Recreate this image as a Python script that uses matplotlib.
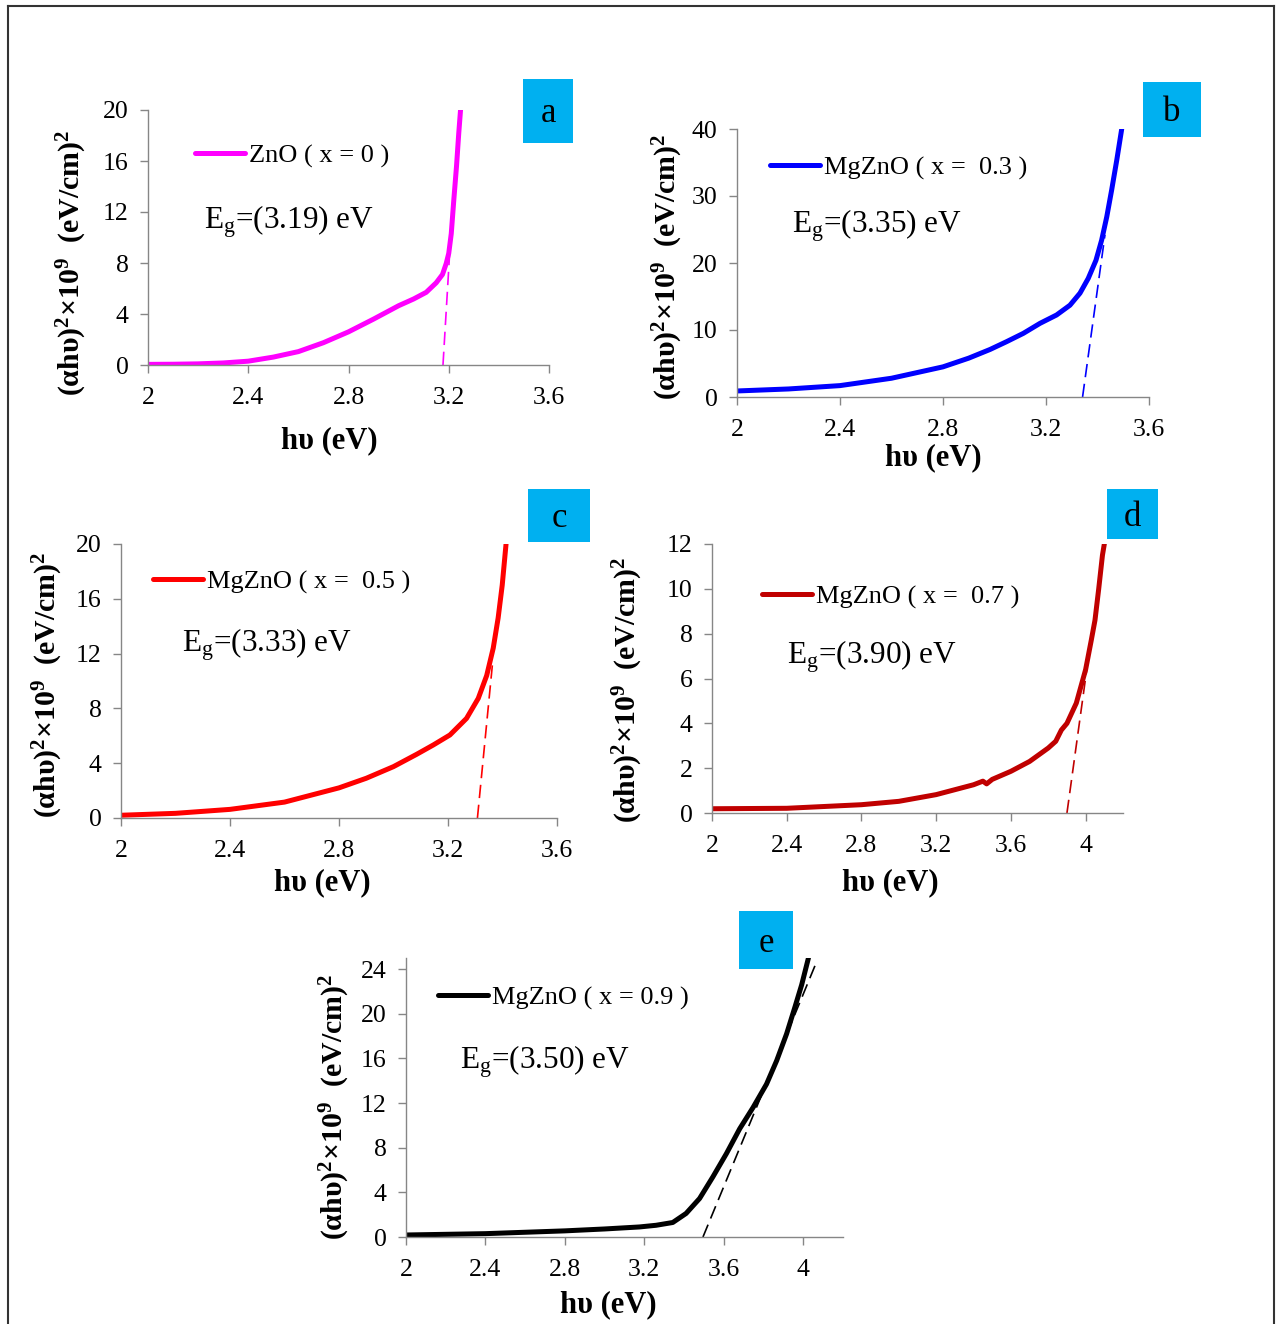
import numpy as np
import matplotlib.pyplot as plt
from matplotlib.patches import Rectangle
from matplotlib.lines import Line2D

plt.rcParams['font.family'] = ['Liberation Serif', 'DejaVu Serif']
plt.rcParams['mathtext.fontset'] = 'custom'
plt.rcParams['mathtext.rm'] = 'Liberation Serif'
plt.rcParams['mathtext.bf'] = 'Liberation Serif:bold'
plt.rcParams['mathtext.it'] = 'Liberation Serif:italic'

# ---- data ----
# (a) ZnO x = 0
a_x = [2.0, 2.1, 2.2, 2.3, 2.4, 2.5, 2.6, 2.7, 2.8, 2.9, 3.0, 3.06, 3.11, 3.15, 3.175, 3.19,
       3.2, 3.21, 3.22, 3.231, 3.24, 3.247]
a_y = [0.05, 0.06, 0.09, 0.16, 0.3, 0.62, 1.05, 1.75, 2.6, 3.6, 4.65, 5.18, 5.7, 6.45, 7.1, 7.97,
       8.76, 10.3, 12.9, 15.6, 18.2, 20.0]
a_fit_x = [3.177, 3.204]
a_fit_y = [0.0, 8.9]

# (b) MgZnO x = 0.3
b_x = [2.0, 2.2, 2.4, 2.6, 2.8, 2.9, 2.983, 3.047, 3.112, 3.177, 3.241, 3.293, 3.332, 3.364,
       3.394, 3.416, 3.436, 3.455, 3.475, 3.494]
b_y = [0.9, 1.2, 1.7, 2.8, 4.5, 5.8, 7.1, 8.26, 9.5, 11.0, 12.24, 13.7, 15.5, 17.7,
       20.4, 23.4, 26.9, 30.9, 35.4, 40.0]
b_fit_x = [3.342, 3.429]
b_fit_y = [0.0, 24.2]

# (c) MgZnO x = 0.5
c_x = [2.0, 2.2, 2.4, 2.6, 2.8, 2.9, 3.0, 3.085, 3.146, 3.207, 3.268, 3.311, 3.342, 3.366,
       3.384, 3.399, 3.413]
c_y = [0.2, 0.34, 0.63, 1.16, 2.2, 2.9, 3.75, 4.65, 5.33, 6.06, 7.27, 8.73, 10.4, 12.4,
       14.6, 17.0, 20.0]
c_fit_x = [3.308, 3.363]
c_fit_y = [0.0, 11.2]

# (d) MgZnO x = 0.7
d_x = [2.0, 2.4, 2.8, 3.0, 3.2, 3.3, 3.4, 3.45, 3.47, 3.5, 3.6, 3.7, 3.8, 3.84, 3.87, 3.9,
       3.95, 4.0, 4.03, 4.05, 4.07, 4.09, 4.1]
d_y = [0.19, 0.21, 0.37, 0.52, 0.82, 1.04, 1.26, 1.42, 1.3, 1.5, 1.86, 2.3, 2.9, 3.2, 3.7, 4.0,
       4.9, 6.4, 7.7, 8.6, 10.0, 11.5, 12.0]
d_fit_x = [3.90, 4.006]
d_fit_y = [0.0, 6.4]

# (e) MgZnO x = 0.9
e_x = [2.0, 2.4, 2.8, 3.0, 3.175, 3.259, 3.343, 3.41, 3.478, 3.545, 3.613, 3.68, 3.747, 3.815,
       3.866, 3.916, 3.958, 3.992, 4.026]
e_y = [0.18, 0.3, 0.55, 0.72, 0.9, 1.05, 1.3, 2.11, 3.45, 5.39, 7.47, 9.7, 11.6, 13.7,
       15.8, 18.2, 20.6, 22.6, 25.0]
e_fit_x = [3.495, 4.068]
e_fit_y = [0.0, 24.7]

labels = ['ZnO ( x = 0 )', 'MgZnO ( x =  0.3 )', 'MgZnO ( x =  0.5 )',
          'MgZnO ( x =  0.7 )', 'MgZnO ( x = 0.9 )']
gaps = ['3.19', '3.35', '3.33', '3.90', '3.50']
letters = ['a', 'b', 'c', 'd', 'e']
colors = ['#FF00FF', '#0000FF', '#FF0000', '#C00000', '#000000']

W, H = 1277, 1324
fig = plt.figure(figsize=(W / 100, H / 100), dpi=100)


def fx(px):
    return px / W


def fy(py):
    return 1 - py / H


# panel layout in pixels: axes (l, r, t, b), limits, ticks, label box, legend, Eg text, labels
panels = [
    dict(x=a_x, y=a_y, fx_=a_fit_x, fy_=a_fit_y, ax=(148, 549, 110, 365), xlim=(2, 3.6), ylim=(0, 20),
         xt=np.arange(2, 3.61, 0.4), yt=np.arange(0, 21, 4), box=(523, 573, 79, 143),
         leg=(195, 156), eg=(204, 222), yl=(72, 263), xl=(329, 441)),
    dict(x=b_x, y=b_y, fx_=b_fit_x, fy_=b_fit_y, ax=(737, 1149, 129, 397), xlim=(2, 3.6), ylim=(0, 40),
         xt=np.arange(2, 3.61, 0.4), yt=np.arange(0, 41, 10), box=(1143, 1201, 82, 137),
         leg=(770, 168), eg=(792, 226), yl=(668, 267), xl=(933, 458)),
    dict(x=c_x, y=c_y, fx_=c_fit_x, fy_=c_fit_y, ax=(121, 557, 544, 818), xlim=(2, 3.6), ylim=(0, 20),
         xt=np.arange(2, 3.61, 0.4), yt=np.arange(0, 21, 4), box=(528, 590, 489, 542),
         leg=(153, 582), eg=(182, 645), yl=(48, 685), xl=(322, 883)),
    dict(x=d_x, y=d_y, fx_=d_fit_x, fy_=d_fit_y, ax=(712, 1123, 544, 813), xlim=(2, 4.2), ylim=(0, 12),
         xt=np.arange(2, 4.01, 0.4), yt=np.arange(0, 13, 2), box=(1107, 1158, 489, 539),
         leg=(762, 597), eg=(787, 657), yl=(628, 690), xl=(890, 883)),
    dict(x=e_x, y=e_y, fx_=e_fit_x, fy_=e_fit_y, ax=(406, 843, 958, 1237), xlim=(2, 4.2), ylim=(0, 25),
         xt=np.arange(2, 4.01, 0.4), yt=np.arange(0, 25, 4), box=(739, 793, 911, 969),
         leg=(438, 998), eg=(460, 1062), yl=(335, 1107), xl=(608, 1305)),
]

spine_col = '#868686'
ylab = r'(αhυ)$^\mathbf{2}$×10$^\mathbf{9}$  (eV/cm)$^\mathbf{2}$'

for i, p in enumerate(panels):
    l, r, t, b = p['ax']
    ax = fig.add_axes([fx(l), fy(b), (r - l) / W, (b - t) / H])
    ax.plot(p['x'], p['y'], color=colors[i], lw=3.6, solid_capstyle='round', label=labels[i])
    ax.plot(p['fx_'], p['fy_'], color=colors[i], lw=1.2, ls=(0, (8, 4)))
    ax.set_xlim(*p['xlim'])
    ax.set_ylim(*p['ylim'])
    ax.set_xticks(p['xt'])
    ax.set_xticklabels([f'{v:g}' for v in p['xt']])
    ax.set_yticks(p['yt'])
    ax.set_yticklabels([f'{v:g}' for v in p['yt']])
    for s in ['top', 'right']:
        ax.spines[s].set_visible(False)
    for s in ['left', 'bottom']:
        ax.spines[s].set_color(spine_col)
        ax.spines[s].set_linewidth(1.0)
    ax.tick_params(direction='out', length=6, width=1, color=spine_col, labelsize=18.5)
    ax.tick_params(axis='x', pad=10)
    ax.tick_params(axis='y', pad=8)
    ax.patch.set_alpha(0)

    # legend
    ax.legend(loc='center left', bbox_to_anchor=(fx(p['leg'][0]), fy(p['leg'][1])),
              bbox_transform=fig.transFigure, frameon=False, fontsize=19,
              handlelength=1.9, handletextpad=0.15, borderpad=0, borderaxespad=0)

    # band gap text
    fig.text(fx(p['eg'][0]), fy(p['eg'][1]), r'E$_\mathregular{g}$=(' + gaps[i] + ') eV',
             fontsize=22.5, ha='left', va='center')

    # axis titles
    fig.text(fx(p['yl'][0]), fy(p['yl'][1]), ylab, rotation=90,
             fontsize=21.5, fontweight='bold', ha='center', va='center')
    fig.text(fx(p['xl'][0]), fy(p['xl'][1]), 'hυ (eV)', fontsize=22, fontweight='bold',
             ha='center', va='center')

    # panel letter box
    bl, br, bt, bb = p['box']
    fig.add_artist(Rectangle((fx(bl), fy(bb)), (br - bl) / W, (bb - bt) / H,
                             transform=fig.transFigure, facecolor='#00B0F0', edgecolor='none'))
    fig.text(fx((bl + br) / 2), fy((bt + bb) / 2 + 3), letters[i], fontsize=25,
             ha='center', va='center')

# outer frame
for xs, ys in [((8, 8), (6, 1324)), ((8, 1274), (6, 6)), ((1274, 1274), (6, 1324))]:
    fig.add_artist(Line2D([fx(v) for v in xs], [fy(v) for v in ys], transform=fig.transFigure,
                          color='#333333', lw=1.5))

fig.savefig('out.png', dpi=100, facecolor='white')
